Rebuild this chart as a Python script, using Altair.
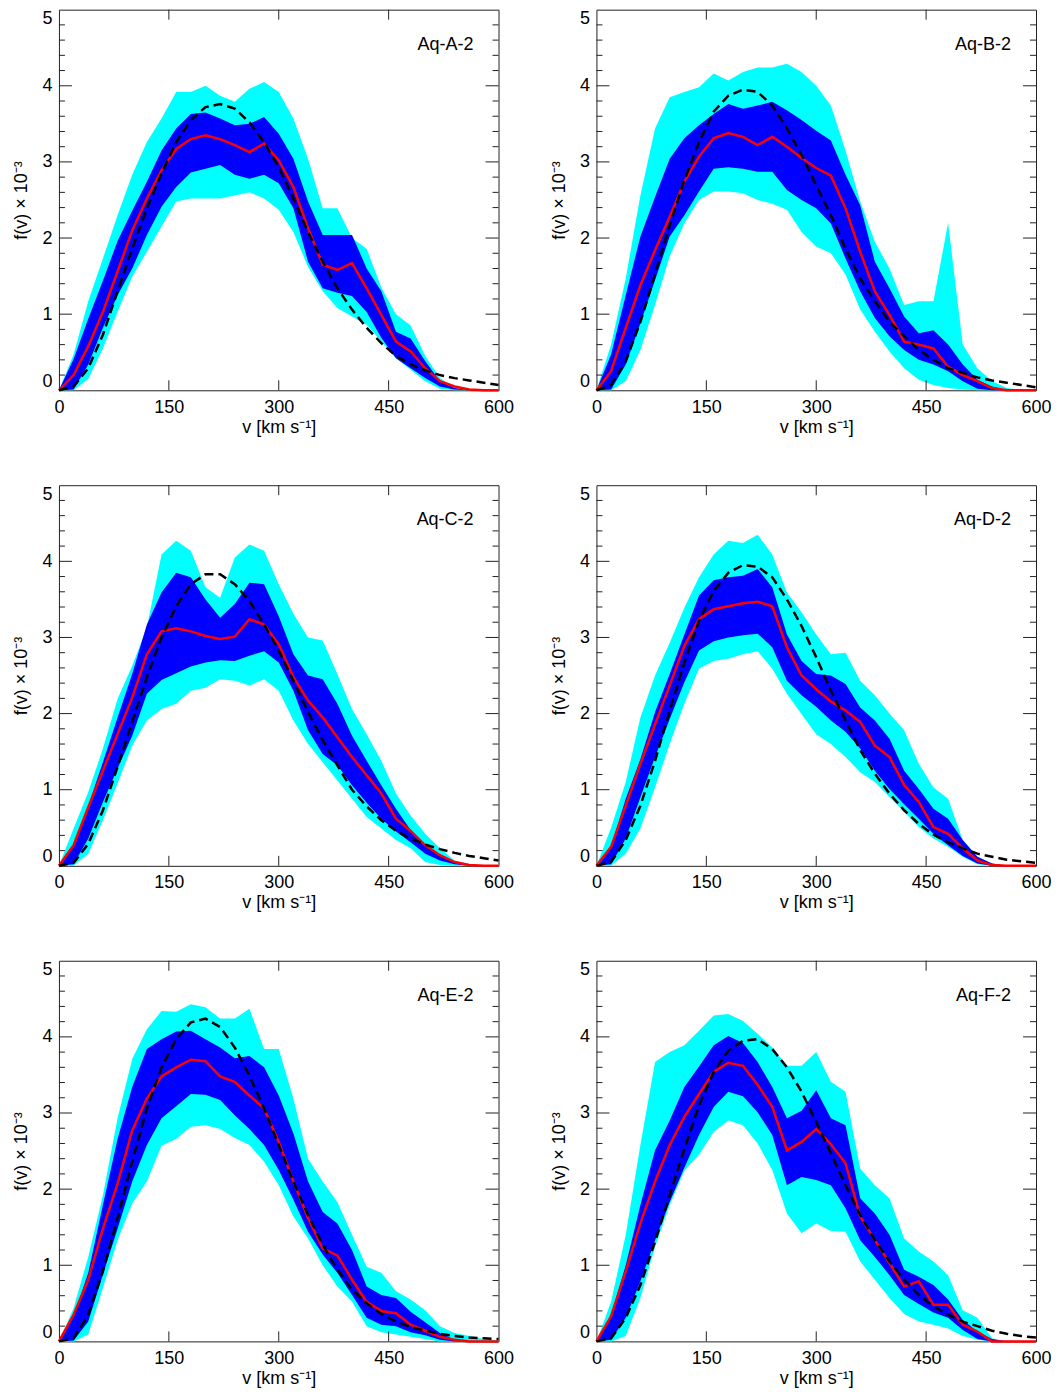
"""Six velocity-distribution panels (Aq-A-2 ... Aq-F-2): bands, median and fit."""

import altair as alt
import pandas as pd

# velocity grid (km/s), values every 20 km/s
V = [0, 20, 40, 60, 80, 100, 120, 140, 160, 180, 200, 220, 240, 260, 280, 300,
     320, 340, 360, 380, 400, 420, 440, 460, 480, 500, 520, 540, 560, 580, 600]

A_CYAN_HI = [0, 0.47, 1.17, 1.73, 2.3, 2.83, 3.26, 3.57, 3.92, 3.92, 4.0, 3.87, 3.79, 3.96, 4.05, 3.92,
             3.57, 3.04, 2.39, 2.39, 2.0, 1.86, 1.35, 1.0, 0.85, 0.45, 0.16, 0.03, 0, 0, 0]
A_BLUE_HI = [0, 0.41, 0.94, 1.44, 1.96, 2.36, 2.74, 3.15, 3.44, 3.63, 3.65, 3.57, 3.48, 3.5, 3.59, 3.37,
             3.04, 2.48, 2.04, 2.04, 2.04, 1.6, 1.3, 0.77, 0.68, 0.38, 0.12, 0.03, 0, 0, 0]
A_BLUE_LO = [0, 0.01, 0.34, 0.82, 1.25, 1.6, 2.04, 2.41, 2.67, 2.86, 2.91, 2.96, 2.83, 2.78, 2.83, 2.72,
             2.39, 1.69, 1.34, 1.28, 1.24, 1.03, 0.69, 0.42, 0.29, 0.16, 0.05, 0.01, 0, 0, 0]
A_CYAN_LO = [0, 0, 0.15, 0.55, 1.03, 1.49, 1.82, 2.15, 2.48, 2.52, 2.52, 2.52, 2.56, 2.6, 2.52, 2.37,
             2.08, 1.62, 1.3, 1.08, 0.97, 0.86, 0.64, 0.42, 0.27, 0.12, 0.02, 0, 0, 0, 0]
A_RED = [0, 0.2, 0.58, 1.03, 1.56, 2.1, 2.52, 2.89, 3.17, 3.3, 3.35, 3.3, 3.22, 3.13, 3.24, 3.02,
         2.67, 2.13, 1.65, 1.58, 1.67, 1.34, 0.99, 0.64, 0.51, 0.29, 0.12, 0.05, 0.01, 0, 0]
A_FIT = [0, 0.05, 0.29, 0.73, 1.3, 1.86, 2.39, 2.85, 3.26, 3.55, 3.72, 3.76, 3.7, 3.52, 3.26, 2.93,
         2.52, 2.08, 1.69, 1.34, 1.06, 0.82, 0.62, 0.45, 0.34, 0.26, 0.2, 0.16, 0.13, 0.1, 0.07]

B_CYAN_HI = [0, 0.6, 1.47, 2.56, 3.44, 3.85, 3.92, 3.98, 4.16, 4.07, 4.18, 4.24, 4.24, 4.29, 4.18, 4.0,
             3.74, 3.15, 2.48, 1.95, 1.6, 1.12, 1.17, 1.17, 2.2, 0.6, 0.29, 0.12, 0.03, 0, 0]
B_BLUE_HI = [0, 0.47, 1.25, 2.02, 2.54, 3.04, 3.31, 3.48, 3.63, 3.76, 3.7, 3.74, 3.79, 3.68, 3.55, 3.41,
             3.28, 2.83, 2.43, 1.69, 1.34, 0.97, 0.75, 0.79, 0.6, 0.34, 0.14, 0.05, 0, 0, 0]
B_BLUE_LO = [0, 0.01, 0.34, 0.88, 1.45, 2.02, 2.3, 2.61, 2.91, 2.93, 2.91, 2.87, 2.87, 2.63, 2.5, 2.39,
             2.19, 1.73, 1.3, 0.95, 0.71, 0.53, 0.4, 0.34, 0.25, 0.12, 0.02, 0, 0, 0, 0]
B_CYAN_LO = [0, 0, 0.12, 0.53, 1.12, 1.76, 2.19, 2.5, 2.61, 2.61, 2.59, 2.5, 2.45, 2.37, 2.08, 1.89,
             1.8, 1.52, 1.06, 0.77, 0.51, 0.29, 0.14, 0.07, 0.03, 0.01, 0, 0, 0, 0, 0]
B_RED = [0, 0.25, 0.82, 1.38, 1.84, 2.28, 2.74, 3.07, 3.31, 3.38, 3.33, 3.22, 3.33, 3.2, 3.05, 2.92,
         2.82, 2.39, 1.82, 1.3, 0.99, 0.64, 0.6, 0.55, 0.31, 0.2, 0.12, 0.03, 0, 0, 0]
B_FIT = [0, 0.07, 0.38, 0.9, 1.52, 2.17, 2.76, 3.26, 3.66, 3.87, 3.95, 3.92, 3.74, 3.44, 3.09, 2.69,
         2.3, 1.86, 1.47, 1.17, 0.9, 0.71, 0.53, 0.4, 0.29, 0.23, 0.17, 0.13, 0.1, 0.07, 0.04]

C_CYAN_HI = [0, 0.49, 0.97, 1.54, 2.19, 2.63, 3.13, 4.09, 4.27, 4.14, 3.66, 3.52, 4.05, 4.22, 4.14, 3.7,
             3.31, 3.0, 2.96, 2.52, 2.06, 1.73, 1.38, 0.95, 0.66, 0.42, 0.23, 0.07, 0.02, 0, 0]
C_BLUE_HI = [0, 0.25, 0.79, 1.36, 1.95, 2.52, 3.17, 3.59, 3.85, 3.79, 3.5, 3.26, 3.44, 3.72, 3.7, 3.28,
             2.78, 2.5, 2.45, 2.13, 1.71, 1.38, 1.06, 0.75, 0.47, 0.27, 0.14, 0.04, 0, 0, 0]
C_BLUE_LO = [0, 0.02, 0.36, 0.84, 1.28, 1.71, 2.26, 2.44, 2.53, 2.62, 2.67, 2.7, 2.69, 2.76, 2.82, 2.67,
             2.3, 1.78, 1.47, 1.32, 1.06, 0.83, 0.62, 0.45, 0.31, 0.16, 0.07, 0.02, 0, 0, 0]
C_CYAN_LO = [0, 0, 0.16, 0.6, 1.08, 1.58, 1.91, 2.06, 2.13, 2.3, 2.34, 2.45, 2.43, 2.37, 2.45, 2.3,
             1.91, 1.6, 1.36, 1.12, 0.88, 0.64, 0.49, 0.34, 0.23, 0.05, 0.01, 0, 0, 0, 0]
C_RED = [0, 0.27, 0.77, 1.25, 1.73, 2.21, 2.78, 3.08, 3.12, 3.08, 3.02, 2.98, 3.01, 3.24, 3.17, 2.91,
         2.48, 2.17, 1.95, 1.69, 1.43, 1.19, 0.95, 0.62, 0.46, 0.27, 0.14, 0.05, 0.01, 0, 0]
C_FIT = [0, 0.04, 0.29, 0.73, 1.3, 1.89, 2.48, 3.0, 3.41, 3.7, 3.83, 3.83, 3.7, 3.48, 3.17, 2.83,
         2.43, 2.02, 1.65, 1.32, 1.0, 0.78, 0.6, 0.46, 0.36, 0.28, 0.22, 0.17, 0.13, 0.1, 0.07]

D_CYAN_HI = [0, 0.5, 1.1, 1.95, 2.5, 2.93, 3.39, 3.79, 4.09, 4.27, 4.24, 4.35, 4.09, 3.59, 3.33, 3.04,
             2.78, 2.8, 2.43, 2.24, 2.0, 1.78, 1.34, 1.03, 0.88, 0.34, 0.12, 0.03, 0, 0, 0]
D_BLUE_HI = [0, 0.25, 0.88, 1.4, 2.02, 2.52, 3.04, 3.55, 3.75, 3.79, 3.81, 3.9, 3.66, 3.04, 2.69, 2.52,
             2.5, 2.39, 2.08, 1.91, 1.67, 1.25, 1.01, 0.75, 0.62, 0.34, 0.12, 0.03, 0, 0, 0]
D_BLUE_LO = [0, 0.02, 0.36, 0.9, 1.43, 1.93, 2.41, 2.83, 2.95, 3.0, 3.03, 3.05, 2.87, 2.43, 2.24, 2.09,
             1.91, 1.76, 1.54, 1.25, 1.01, 0.81, 0.62, 0.42, 0.27, 0.13, 0.03, 0, 0, 0, 0]
D_CYAN_LO = [0, 0, 0.16, 0.49, 1.03, 1.6, 2.13, 2.59, 2.69, 2.72, 2.78, 2.82, 2.59, 2.26, 1.99, 1.73,
             1.6, 1.43, 1.23, 1.1, 0.9, 0.71, 0.51, 0.36, 0.25, 0.12, 0.02, 0, 0, 0, 0]
D_RED = [0, 0.25, 0.79, 1.34, 1.86, 2.37, 2.89, 3.24, 3.37, 3.41, 3.45, 3.47, 3.41, 2.87, 2.5, 2.32,
         2.16, 2.04, 1.89, 1.58, 1.43, 1.06, 0.84, 0.51, 0.42, 0.23, 0.07, 0.01, 0, 0, 0]
D_FIT = [0, 0.05, 0.34, 0.79, 1.38, 2.04, 2.67, 3.22, 3.61, 3.85, 3.95, 3.93, 3.79, 3.5, 3.15, 2.74,
         2.3, 1.91, 1.52, 1.21, 0.95, 0.73, 0.55, 0.41, 0.31, 0.23, 0.16, 0.12, 0.08, 0.06, 0.04]

E_CYAN_HI = [0, 0.44, 1.11, 1.92, 2.93, 3.71, 4.1, 4.34, 4.33, 4.43, 4.39, 4.24, 4.24, 4.37, 3.84, 3.84,
             3.19, 2.4, 2.1, 1.83, 1.4, 0.98, 0.9, 0.66, 0.55, 0.41, 0.2, 0.11, 0.07, 0.03, 0.01]
E_BLUE_HI = [0, 0.33, 0.9, 1.79, 2.66, 3.34, 3.84, 3.97, 4.07, 4.08, 3.97, 3.86, 3.72, 3.75, 3.6, 3.23,
             2.73, 2.1, 1.7, 1.55, 1.2, 0.72, 0.61, 0.57, 0.39, 0.25, 0.11, 0.02, 0, 0, 0]
E_BLUE_LO = [0, 0.01, 0.26, 0.88, 1.48, 2.1, 2.58, 2.93, 3.09, 3.25, 3.24, 3.17, 2.97, 2.79, 2.58, 2.25,
             1.86, 1.44, 1.14, 0.9, 0.61, 0.31, 0.22, 0.2, 0.12, 0.08, 0.02, 0, 0, 0, 0]
E_CYAN_LO = [0, 0, 0.09, 0.7, 1.33, 1.81, 2.1, 2.57, 2.66, 2.82, 2.84, 2.79, 2.67, 2.58, 2.36, 2.05,
             1.64, 1.35, 1.0, 0.72, 0.52, 0.2, 0.12, 0.09, 0.06, 0.03, 0, 0, 0, 0, 0]
E_RED = [0, 0.35, 0.81, 1.48, 2.07, 2.77, 3.19, 3.48, 3.6, 3.7, 3.68, 3.48, 3.41, 3.23, 3.06, 2.62,
         2.1, 1.62, 1.22, 1.13, 0.81, 0.52, 0.4, 0.37, 0.22, 0.14, 0.06, 0.02, 0, 0, 0]
E_FIT = [0, 0.04, 0.35, 0.92, 1.62, 2.36, 3.06, 3.6, 3.97, 4.19, 4.24, 4.13, 3.86, 3.49, 3.06, 2.58,
         2.1, 1.66, 1.27, 0.94, 0.68, 0.5, 0.36, 0.26, 0.19, 0.14, 0.1, 0.07, 0.05, 0.04, 0.03]

F_CYAN_HI = [0, 0.52, 1.4, 2.58, 3.67, 3.8, 3.89, 4.08, 4.28, 4.3, 4.21, 4.04, 3.86, 3.62, 3.62, 3.8,
             3.41, 3.28, 2.27, 2.05, 1.88, 1.35, 1.18, 1.05, 0.87, 0.41, 0.31, 0.04, 0, 0, 0]
F_BLUE_HI = [0, 0.35, 1.0, 1.79, 2.51, 2.9, 3.34, 3.61, 3.89, 4.01, 3.92, 3.67, 3.34, 2.93, 3.03, 3.3,
             2.93, 2.84, 1.88, 1.68, 1.4, 0.94, 0.85, 0.74, 0.55, 0.28, 0.13, 0.03, 0, 0, 0]
F_BLUE_LO = [0, 0.02, 0.31, 0.79, 1.33, 1.83, 2.28, 2.71, 3.08, 3.28, 3.22, 3.01, 2.71, 2.05, 2.16, 2.12,
             2.05, 1.75, 1.33, 1.11, 0.87, 0.61, 0.49, 0.38, 0.31, 0.15, 0.03, 0, 0, 0, 0]
F_CYAN_LO = [0, 0, 0.07, 0.57, 1.24, 1.79, 2.24, 2.45, 2.75, 2.9, 2.84, 2.6, 2.25, 1.68, 1.42, 1.55,
             1.45, 1.44, 1.05, 0.81, 0.57, 0.36, 0.26, 0.22, 0.17, 0.07, 0.02, 0, 0, 0, 0]
F_RED = [0, 0.33, 0.92, 1.55, 2.1, 2.58, 2.95, 3.25, 3.54, 3.66, 3.62, 3.37, 3.08, 2.51, 2.62, 2.79,
         2.59, 2.34, 1.64, 1.33, 1.03, 0.72, 0.79, 0.48, 0.48, 0.22, 0.13, 0, 0, 0, 0]
F_FIT = [0, 0.04, 0.31, 0.74, 1.31, 1.92, 2.53, 3.1, 3.54, 3.82, 3.95, 3.97, 3.84, 3.6, 3.28, 2.88,
         2.47, 2.05, 1.66, 1.33, 1.05, 0.81, 0.61, 0.46, 0.35, 0.26, 0.2, 0.14, 0.1, 0.07, 0.05]

X_TICKS = [0, 150, 300, 450, 600]
Y_TICKS = [0, 1, 2, 3, 4, 5]
Y_MINOR = [0.2, 0.4, 0.6, 0.8, 1.2, 1.4, 1.6, 1.8, 2.2, 2.4, 2.6, 2.8,
           3.2, 3.4, 3.6, 3.8, 4.2, 4.4, 4.6, 4.8]

W, H = 440, 381
FONT = "Liberation Sans"
FRAME = "#222222"
CYAN, BLUE, RED = "#00ffff", "#0000ff", "#ff0000"

X_SCALE = alt.Scale(domain=[0, 600], nice=False)
Y_SCALE = alt.Scale(domain=[0, 5], nice=False)
# same axis object on every layer so the merged axis keeps its title and labels
X_AXIS = alt.Axis(values=X_TICKS, title="v [km s⁻¹]", labelFlush=False,
                  labelPadding=8, titlePadding=2)
Y_AXIS = alt.Axis(values=Y_TICKS, title="f(v) × 10⁻³", labelFlush=True,
                  labelPadding=7, titlePadding=11)


def xq(field):
    return alt.X(field, scale=X_SCALE, axis=X_AXIS)


def yq(field):
    return alt.Y(field, scale=Y_SCALE, axis=Y_AXIS)


def panel(name, cyan_lo, cyan_hi, blue_lo, blue_hi, red, fit):
    df = pd.DataFrame({"v": V, "cyan_lo": cyan_lo, "cyan_hi": cyan_hi,
                       "blue_lo": blue_lo, "blue_hi": blue_hi, "red": red, "fit": fit})
    base = alt.Chart(df)
    cyan = base.mark_area(color=CYAN).encode(x=xq("v:Q"), y=yq("cyan_lo:Q"), y2="cyan_hi:Q")
    blue = base.mark_area(color=BLUE).encode(x=xq("v:Q"), y=yq("blue_lo:Q"), y2="blue_hi:Q")
    median = base.mark_line(color=RED, strokeWidth=2.5).encode(x=xq("v:Q"), y=yq("red:Q"))
    dashed = base.mark_line(color="black", strokeWidth=2.5, strokeDash=[9, 5]).encode(
        x=xq("v:Q"), y=yq("fit:Q"))

    # inward ticks on all four sides, IDL style
    xt = alt.Chart(pd.DataFrame({"v": X_TICKS[1:-1]}))
    yt = alt.Chart(pd.DataFrame({"f": Y_TICKS[1:-1]}))
    ym = alt.Chart(pd.DataFrame({"f": Y_MINOR}))
    rule = dict(color=FRAME, strokeWidth=1)
    ticks = [
        xt.mark_rule(**rule).encode(x=xq("v:Q"), y=alt.value(H), y2=alt.value(H - 10)),
        xt.mark_rule(**rule).encode(x=xq("v:Q"), y=alt.value(0), y2=alt.value(10)),
        yt.mark_rule(**rule).encode(y=yq("f:Q"), x=alt.value(0), x2=alt.value(13)),
        yt.mark_rule(**rule).encode(y=yq("f:Q"), x=alt.value(W), x2=alt.value(W - 13)),
        ym.mark_rule(**rule).encode(y=yq("f:Q"), x=alt.value(0), x2=alt.value(6)),
        ym.mark_rule(**rule).encode(y=yq("f:Q"), x=alt.value(W), x2=alt.value(W - 6)),
    ]
    label = alt.Chart(pd.DataFrame({"name": [name]})).mark_text(
        align="right", baseline="middle", font=FONT, fontSize=18, color="black"
    ).encode(x=alt.value(W - 25), y=alt.value(35), text="name:N")

    return alt.layer(cyan, blue, median, dashed, *ticks, label).properties(width=W, height=H)


panels = [
    panel("Aq-A-2", A_CYAN_LO, A_CYAN_HI, A_BLUE_LO, A_BLUE_HI, A_RED, A_FIT),
    panel("Aq-B-2", B_CYAN_LO, B_CYAN_HI, B_BLUE_LO, B_BLUE_HI, B_RED, B_FIT),
    panel("Aq-C-2", C_CYAN_LO, C_CYAN_HI, C_BLUE_LO, C_BLUE_HI, C_RED, C_FIT),
    panel("Aq-D-2", D_CYAN_LO, D_CYAN_HI, D_BLUE_LO, D_BLUE_HI, D_RED, D_FIT),
    panel("Aq-E-2", E_CYAN_LO, E_CYAN_HI, E_BLUE_LO, E_BLUE_HI, E_RED, E_FIT),
    panel("Aq-F-2", F_CYAN_LO, F_CYAN_HI, F_BLUE_LO, F_BLUE_HI, F_RED, F_FIT),
]

chart = (
    alt.concat(*panels, columns=2, spacing={"row": 95, "column": 98}, bounds="flush")
    .properties(padding={"left": 4, "top": 0, "right": 0, "bottom": 0})
    .configure_view(stroke=FRAME, strokeWidth=1)
    .configure_axis(
        labelFont=FONT, titleFont=FONT, labelFontSize=18, titleFontSize=18,
        labelColor="black", titleColor="black", titleFontWeight="normal",
        ticks=False, tickSize=0, domain=False, grid=False,
    )
)

chart.save("out.html", embed_options={"renderer": "svg", "actions": False})
